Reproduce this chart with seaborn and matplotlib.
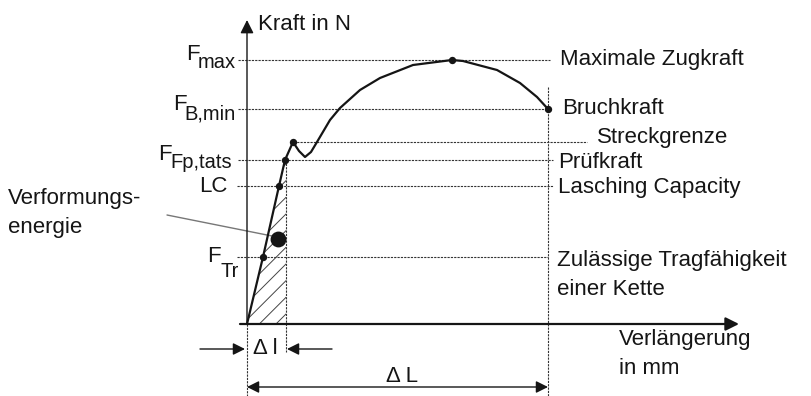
import matplotlib
matplotlib.use("Agg")
import matplotlib.pyplot as plt
import seaborn as sns
import pandas as pd

# Force-elongation curve of a lashing chain (schematic, arbitrary units)
elongation = [0, 16, 32, 38, 46, 52, 58, 64, 70, 83, 93, 113, 133, 166, 205, 216, 250, 273, 290, 301]
force = [0, 67, 138, 164, 182, 173, 167, 172, 182, 204, 216, 234, 246, 259, 264, 263, 254, 241, 227, 215]

# Characteristic force levels
f_max = 264
f_bruch = 215
f_streck = 182
f_pruef = 164
f_lc = 138
f_tr = 67

# Characteristic elongations
dl_small = 39
dl_total = 301

# Marked points on the curve
mark_x = [16, 32, 38, 46, 205, 301]
mark_y = [f_tr, f_lc, f_pruef, f_streck, f_max, f_bruch]

right_labels = ["Maximale Zugkraft", "Bruchkraft", "Streckgrenze", "Prüfkraft",
                "Lasching Capacity", "Zulässige Tragfähigkeit\neiner Kette"]

sns.set_theme(style="white")
plt.rcParams["font.family"] = ["Liberation Sans", "DejaVu Sans"]
plt.rcParams["hatch.linewidth"] = 0.7

fig = plt.figure(figsize=(8.12, 3.96), dpi=100)
ax = fig.add_axes([0, 0, 1, 1])
ax.set_xlim(-247, 565)
ax.set_ylim(-72, 324)
ax.axis("off")

ink = "#151515"
dot = dict(color="#333333", lw=0.8, ls=(0, (2, 1)))
fs = 16
fs_sub = 14.5

# hatched deformation energy area
curve = pd.DataFrame({"x": elongation, "y": force})
elastic = curve[curve.x <= 38]
ax.fill_betweenx(list(elastic.y), list(elastic.x), dl_small, facecolor="none",
                 edgecolor="#444444", hatch="//", linewidth=0, zorder=1)

# dotted reference lines
ax.plot([-9, 303], [f_max, f_max], **dot)
ax.plot([-9, 301], [f_bruch, f_bruch], **dot)
ax.plot([43, 340], [f_streck, f_streck], **dot)
ax.plot([-9, 306], [f_pruef, f_pruef], **dot)
ax.plot([-10, 306], [f_lc, f_lc], **dot)
ax.plot([-10, 301], [f_tr, f_tr], **dot)
ax.plot([0, 0], [0, -72], **dot)
ax.plot([dl_small, dl_small], [f_pruef, -28], **dot)
ax.plot([dl_total, dl_total], [237, -72], **dot)

# coordinate axes with arrows
ax.annotate("", xy=(0, 304), xytext=(0, 0),
            arrowprops=dict(arrowstyle="-|>", mutation_scale=20, lw=1.0,
                            color=ink, shrinkA=0, shrinkB=0))
ax.annotate("", xy=(492, 0), xytext=(-7, 0),
            arrowprops=dict(arrowstyle="-|>", mutation_scale=20, lw=1.6,
                            color=ink, shrinkA=0, shrinkB=0))

# curve and points
sns.lineplot(data=curve, x="x", y="y", sort=False, estimator=None,
             color=ink, lw=1.6, ax=ax, zorder=4)
sns.scatterplot(x=mark_x, y=mark_y, s=28, color=ink, edgecolor=ink,
                linewidth=0, ax=ax, zorder=5)
sns.scatterplot(x=[31], y=[85], s=130, color=ink, edgecolor=ink,
                linewidth=0, ax=ax, zorder=5)

# axis titles
ax.text(11, 299, "Kraft in N", fontsize=fs, color=ink, va="center", ha="left")
ax.text(372, -16, "Verlängerung", fontsize=fs, color=ink, va="center", ha="left")
ax.text(372, -44, "in mm", fontsize=fs, color=ink, va="center", ha="left")

# left force labels with subscripts
def flabel(x_f, y_base, sub, x_sub_right, y_sub):
    ax.text(x_f, y_base, "F", fontsize=fs, color=ink, va="baseline", ha="left")
    ax.text(x_sub_right, y_sub, sub, fontsize=fs_sub, color=ink,
            va="baseline", ha="right")

flabel(-61, 264, "max", -11, 256)
flabel(-74, 214, "B,min", -11, 204)
flabel(-89, 164, "Fp,tats", -15, 156)
ax.text(-19, f_lc, "LC", fontsize=fs, color=ink, va="center", ha="right")
flabel(-40, 62, "Tr", -8, 47)

# right labels
ax.text(313, f_max, right_labels[0], fontsize=fs, color=ink, va="center", ha="left")
ax.text(315, f_bruch, right_labels[1], fontsize=fs, color=ink, va="center", ha="left")
ax.text(350, 186, right_labels[2], fontsize=fs, color=ink, va="center", ha="left")
ax.text(311, 162, right_labels[3], fontsize=fs, color=ink, va="center", ha="left")
ax.text(311, 137, right_labels[4], fontsize=fs, color=ink, va="center", ha="left")
ax.text(310, 49, right_labels[5], fontsize=fs, color=ink, va="center", ha="left",
        linespacing=1.55)

# deformation energy label with leader line
ax.text(-239, 111, "Verformungs-\nenergie", fontsize=fs, color=ink, va="center",
        ha="left", linespacing=1.5)
ax.plot([-80, 25], [109, 88], color="#777777", lw=1.0)

# elongation dimensions
arrow = dict(arrowstyle="-|>", mutation_scale=18, lw=1.0, color=ink,
             shrinkA=0, shrinkB=0)
ax.annotate("", xy=(-2, -25), xytext=(-47, -25), arrowprops=arrow)
ax.annotate("", xy=(dl_small + 1, -25), xytext=(85, -25), arrowprops=arrow)
ax.text(6, -25, "Δ l", fontsize=fs, color=ink, va="center", ha="left")

ax.annotate("", xy=(dl_total, -63), xytext=(0, -63),
            arrowprops=dict(arrowstyle="<|-|>", mutation_scale=18, lw=1.0,
                            color=ink, shrinkA=0, shrinkB=0))
ax.text(139, -53, "Δ L", fontsize=fs, color=ink, va="center", ha="left")

fig.savefig("out.png", dpi=100)
